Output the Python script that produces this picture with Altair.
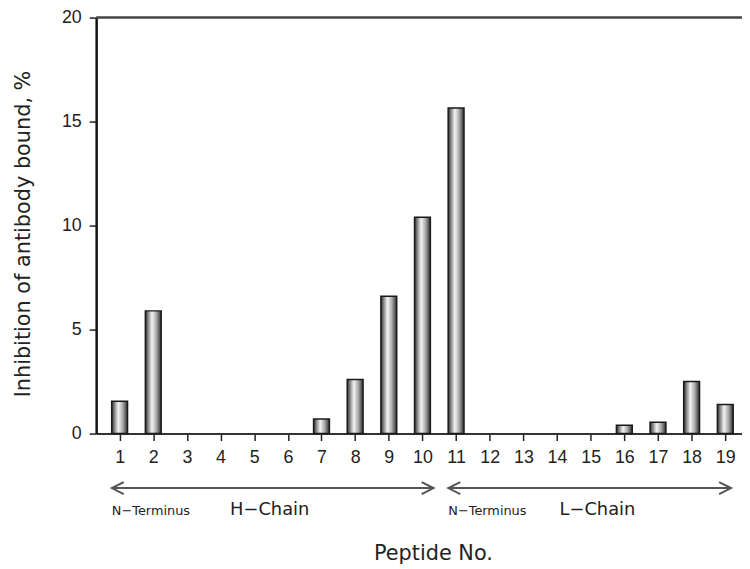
import altair as alt
import pandas as pd

# ---- data ----
peptides = list(range(1, 20))
inhibition = [1.55, 5.9, 0, 0, 0, 0, 0.7, 2.6, 6.6, 10.4,
              15.65, 0, 0, 0, 0, 0.4, 0.55, 2.5, 1.4]

chain_names = ["H\u2212Chain", "L\u2212Chain"]
chain_start = [0.77, 10.77]
chain_end = [10.33, 19.17]
chain_label_x = [5.46, 15.2]
nterm_label = ["N\u2212Terminus", "N\u2212Terminus"]
nterm_x = [1.93, 11.93]

y_ticks = [0, 5, 10, 15, 20]

df = pd.DataFrame({"peptide": peptides, "value": inhibition})
arrows = pd.DataFrame({"chain": chain_names, "start": chain_start, "end": chain_end,
                       "lx": chain_label_x, "nt": nterm_label, "ntx": nterm_x})

FONT = "Liberation Sans"
TFONT = "DejaVu Sans"
xscale = alt.Scale(domain=[0.45, 19.35], nice=False, zero=False)
yscale = alt.Scale(domain=[0, 20], nice=False)

xaxis = alt.Axis(values=peptides, format="d", title="Peptide No.",
                 titleX=340, titleY=121, titleBaseline="middle",
                 titleFontSize=21, titleFontWeight="normal", titleFont=TFONT,
                 titleColor="#222", labelOverlap=False, labelFlush=False,
                 labelFontSize=18, labelFont=FONT, labelColor="#222",
                 labelPadding=8, tickSize=7, tickWidth=1.5, tickColor="#222",
                 domainColor="#333", domainWidth=2, grid=False)
yaxis = alt.Axis(values=y_ticks, title="Inhibition of antibody bound, %",
                 titleX=-73, titleY=218, titleBaseline="middle",
                 titleFontSize=21, titleFontWeight="normal", titleFont=TFONT,
                 titleColor="#222", labelOverlap=False,
                 labelFontSize=18, labelFont=FONT, labelColor="#222",
                 labelPadding=8, tickSize=7, tickWidth=1.5, tickColor="#222",
                 domainColor="#111", domainWidth=2.5, grid=False)

grad = alt.LinearGradient(
    gradient="linear",
    stops=[alt.GradientStop(color="#2e2e2e", offset=0),
           alt.GradientStop(color="#9a9a9a", offset=0.22),
           alt.GradientStop(color="#f4f4f4", offset=0.42),
           alt.GradientStop(color="#a8a8a8", offset=0.7),
           alt.GradientStop(color="#2e2e2e", offset=1)],
    x1=0, x2=1, y1=0, y2=0,
)

bars = alt.Chart(df).transform_filter("datum.value > 0").mark_bar(
    size=16, color=grad, stroke="#1a1a1a", strokeWidth=1.5
).encode(
    x=alt.X("peptide:Q", scale=xscale, axis=xaxis),
    y=alt.Y("value:Q", scale=yscale, axis=yaxis),
)

top_line = alt.Chart(pd.DataFrame({"y": [20]})).mark_rule(
    color="#444", strokeWidth=2.5
).encode(y=alt.Y("y:Q", scale=yscale, axis=yaxis))

arrow_lines = alt.Chart(arrows).mark_rule(color="#555", strokeWidth=2).encode(
    x=alt.X("start:Q", scale=xscale, axis=xaxis), x2="end:Q", y=alt.value(475)
)
left_heads = alt.Chart(arrows).mark_point(
    shape="M2,-1L0,0L2,1", size=144, filled=False, stroke="#555", strokeWidth=2, opacity=1
).encode(x=alt.X("start:Q", scale=xscale, axis=xaxis), y=alt.value(475))
right_heads = alt.Chart(arrows).mark_point(
    shape="M-2,-1L0,0L-2,1", size=144, filled=False, stroke="#555", strokeWidth=2, opacity=1
).encode(x=alt.X("end:Q", scale=xscale, axis=xaxis), y=alt.value(475))

chain_text = alt.Chart(arrows).mark_text(
    font=TFONT, fontSize=18, color="#222", baseline="middle", align="center"
).encode(x=alt.X("lx:Q", scale=xscale, axis=xaxis), y=alt.value(497), text="chain:N")

nterm_text = alt.Chart(arrows).mark_text(
    font=TFONT, fontSize=13, color="#222", baseline="middle", align="center"
).encode(x=alt.X("ntx:Q", scale=xscale, axis=xaxis), y=alt.value(498), text="nt:N")

chart = alt.layer(
    bars, top_line, arrow_lines, left_heads, right_heads, chain_text, nterm_text
).properties(
    width=652, height=420,
    autosize=alt.AutoSizeParams(type="none"),
    padding={"left": 89, "top": 7, "right": 0, "bottom": 132},
).configure_view(stroke=None).configure_axis(labelOverlap=False)

chart.save("out.html", embed_options={"renderer": "svg", "actions": False})
